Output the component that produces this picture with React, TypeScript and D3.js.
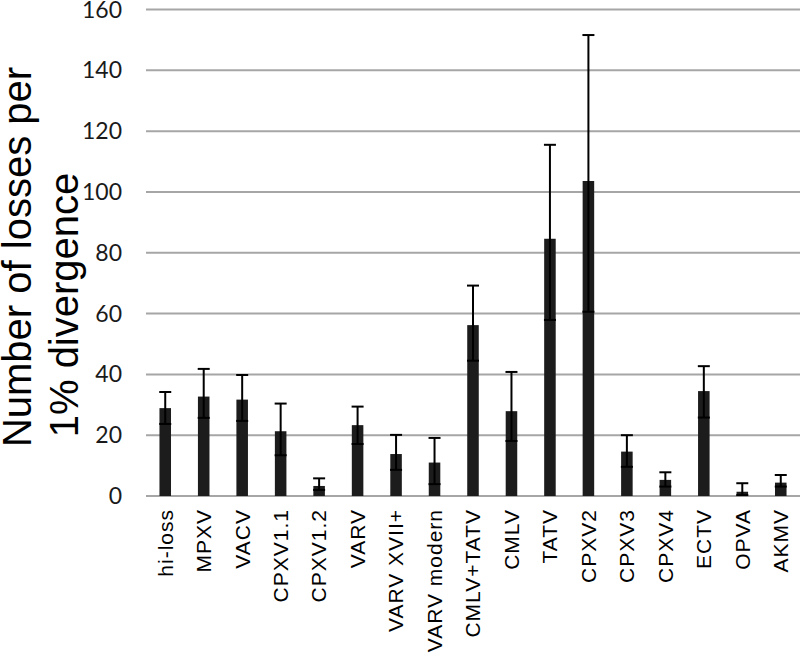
import * as d3 from 'd3'

const categories = ['hi-loss', 'MPXV', 'VACV', 'CPXV1.1', 'CPXV1.2', 'VARV', 'VARV XVII+', 'VARV modern', 'CMLV+TATV', 'CMLV', 'TATV', 'CPXV2', 'CPXV3', 'CPXV4', 'ECTV', 'OPVA', 'AKMV']
const values = [28.9, 32.7, 31.7, 21.3, 3.3, 23.3, 13.8, 11.0, 56.2, 27.9, 84.6, 103.6, 14.6, 5.3, 34.5, 1.4, 4.4]
const errHigh = [34.2, 41.8, 39.8, 30.4, 5.8, 29.4, 20.1, 19.1, 69.2, 40.8, 115.5, 151.6, 20.0, 7.8, 42.7, 4.2, 6.9]
const errLow = [23.7, 25.7, 24.7, 13.4, 2.0, 17.1, 8.6, 3.9, 44.5, 18.1, 57.9, 60.6, 9.6, 3.1, 25.8, 0.3, 3.1]
const yTicks = [0, 20, 40, 60, 80, 100, 120, 140, 160]

const W = 800, H = 662
const left = 146, right = 800, top = 9.5, bottom = 496

export default function App(){
  const x = d3.scaleBand<string>().domain(categories).range([left, right]).paddingInner(0.7).paddingOuter(0.35)
  const y = d3.scaleLinear().domain([0, 160]).range([bottom, top])
  const bw = x.bandwidth()

  return (
    <svg width={W} height={H} style={{ position: 'absolute', left: 0, top: 0, background: '#fff' }}>
      {/* grid */}
      <g stroke="#a6a6a6" strokeWidth={2}>
        {yTicks.map(t => <line key={t} x1={left} x2={right} y1={y(t)} y2={y(t)} />)}
      </g>
      <g fontFamily="Lato" fontSize={23} fill="#1a1a1a" textAnchor="end">
        {yTicks.map(t => <text key={t} x={122} y={y(t)} dy="0.35em">{t}</text>)}
      </g>

      {/* bars */}
      <g fill="#1c1c1c">
        {categories.map((c, i) => (
          <rect key={c} x={x(c)!} y={y(values[i])} width={bw} height={y(0) - y(values[i])} />
        ))}
      </g>

      {/* error bars */}
      <g stroke="#000" strokeWidth={2}>
        {categories.map((c, i) => {
          const cx = x(c)! + bw / 2
          const cap = 6
          return (
            <g key={c}>
              <line x1={cx} x2={cx} y1={y(errLow[i])} y2={y(errHigh[i])} />
              <line x1={cx - cap} x2={cx + cap} y1={y(errHigh[i])} y2={y(errHigh[i])} />
              <line x1={cx - cap} x2={cx + cap} y1={y(errLow[i])} y2={y(errLow[i])} />
            </g>
          )
        })}
      </g>

      {/* category labels */}
      <g fontFamily="Liberation Sans" fontSize={21} fill="#000" textAnchor="end" letterSpacing={1}>
        {categories.map(c => {
          const cx = x(c)! + bw / 2
          return <text key={c} transform={`translate(${cx},${bottom + 13}) rotate(-90)`} dy="0.35em">{c}</text>
        })}
      </g>

      {/* y title */}
      <g fontFamily="Liberation Sans" fontSize={40} fill="#000" textAnchor="middle">
        <text transform="translate(31,257) rotate(-90)">Number of losses per</text>
        <text transform="translate(78,305) rotate(-90)">1% divergence</text>
      </g>
    </svg>
  )
}
